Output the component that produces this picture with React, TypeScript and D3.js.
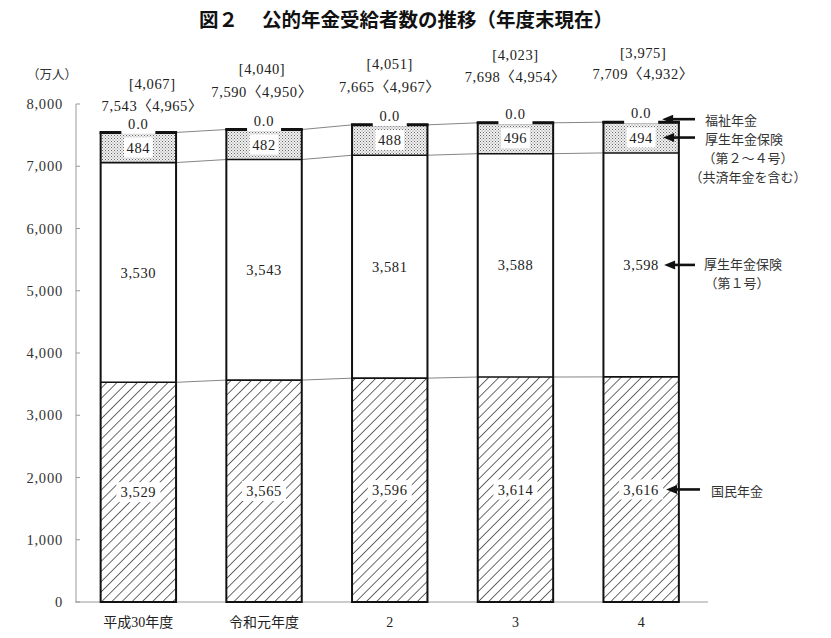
import React from 'react';
import * as d3 from 'd3';

// ---- data (万人) ----
const categories = ['平成30年度', '令和元年度', '2', '3', '4'];
const kokumin = [3529, 3565, 3596, 3614, 3616];
const kosei1 = [3530, 3543, 3581, 3588, 3598];
const kosei24 = [484, 482, 488, 496, 494];
const fukushi = [0.0, 0.0, 0.0, 0.0, 0.0];
const totals = [7543, 7590, 7665, 7698, 7709];
const bracketVals = [4067, 4040, 4051, 4023, 3975];
const angleVals = [4965, 4950, 4967, 4954, 4932];
const yTicks = [0, 1000, 2000, 3000, 4000, 5000, 6000, 7000, 8000];

// ---- layout constants ----
const W = 831;
const H = 638;
const annotationLift = [
  [49, 27],
  [61, 38],
  [61, 38],
  [68, 46],
  [69, 48],
];
const annotationShift = [14, -2, 0, 0, 2];

const NUM_FONT = '"Liberation Serif", "DejaVu Serif", serif';
const JP_FONT = '"Noto Sans CJK JP", "Noto Sans", sans-serif';
const MIX_FONT = '"Liberation Serif", "Noto Sans CJK JP", serif';

export default function App() {
  const x = d3.scaleBand<string>().domain(categories).range([75.5, 704]).paddingInner(0.4).paddingOuter(0.2);
  const y = d3.scaleLinear().domain([0, 8000]).range([602, 104]);
  const fmt = d3.format(',');
  const fmt1 = d3.format('.1f');
  const bw = x.bandwidth();

  const rows = categories.map((c, i) => {
    const c1 = kokumin[i];
    const c2 = c1 + kosei1[i];
    const c3 = c2 + kosei24[i];
    const c4 = c3 + fukushi[i];
    return { c, i, x0: x(c) as number, c1, c2, c3, c4 };
  });

  const levels = (r: typeof rows[number]) => [r.c1, r.c2, r.c4];

  const valueLabel = (cx: number, cy: number, text: string, key: string) => {
    const w = text.length * 7.6 + 6;
    return (
      <g key={key}>
        <rect x={cx - w / 2} y={cy - 10} width={w} height={20} fill="#fff" />
        <text x={cx} y={cy} dy="0.35em" textAnchor="middle" fontFamily={NUM_FONT} fontSize={14.5} letterSpacing={0.6} fill="#222">
          {text}
        </text>
      </g>
    );
  };

  const arrow = (tipX: number, tailX: number, yy: number, key: string) => (
    <g key={key}>
      <line x1={tailX} x2={tipX + 8} y1={yy} y2={yy} stroke="#111" strokeWidth={2.6} />
      <path d={`M${tipX},${yy} L${tipX + 11},${yy - 4.5} L${tipX + 11},${yy + 4.5} Z`} fill="#111" />
    </g>
  );

  const last = rows[rows.length - 1];
  const lastCx = last.x0 + bw / 2;
  const yK2 = (y(last.c2) + y(last.c3)) / 2;
  const yK1 = (y(last.c1) + y(last.c2)) / 2;
  const yKm = (y(0) + y(last.c1)) / 2;

  return (
    <svg width={W} height={H} viewBox={`0 0 ${W} ${H}`} style={{ position: 'absolute', left: 0, top: 0, background: '#fff' }}>
      <defs>
        <pattern id="hatch" width={7.2} height={7.2} patternUnits="userSpaceOnUse" patternTransform="rotate(45)">
          <rect width={7.2} height={7.2} fill="#fff" />
          <line x1={0} y1={0} x2={0} y2={7.2} stroke="#3a3a3a" strokeWidth={1.5} />
        </pattern>
        <pattern id="dots" width={3} height={3} patternUnits="userSpaceOnUse">
          <rect width={3} height={3} fill="#f0f0f0" />
          <rect x={0} y={0} width={1} height={1} fill="#6a6a6a" />
          <rect x={1.5} y={1.5} width={1} height={1} fill="#8a8a8a" />
        </pattern>
      </defs>
      <rect width={W} height={H} fill="#fff" />

      {/* title */}
      <text x={406} y={20} dy="0.35em" textAnchor="middle" fontFamily={JP_FONT} fontWeight={700} fontSize={19.5} fill="#111">
        図２　 公的年金受給者数の推移（年度末現在）
      </text>

      {/* unit */}
      <text x={52} y={75} dy="0.35em" textAnchor="middle" fontFamily={JP_FONT} fontSize={12.5} fill="#333">
        （万人）
      </text>

      {/* y axis */}
      <line x1={76} x2={76} y1={y(8000)} y2={y(0)} stroke="#999" strokeWidth={1} />
      <line x1={75} x2={708} y1={y(0)} y2={y(0)} stroke="#999" strokeWidth={1} />
      {yTicks.map((t) => (
        <g key={t}>
          <line x1={76} x2={80} y1={y(t)} y2={y(t)} stroke="#999" strokeWidth={1} />
          <text x={63} y={y(t)} dy="0.35em" textAnchor="end" fontFamily={NUM_FONT} fontSize={14.5} letterSpacing={0.8} fill="#333">
            {fmt(t)}
          </text>
        </g>
      ))}

      {/* connector lines */}
      {rows.slice(0, -1).map((r, i) => {
        const n = rows[i + 1];
        const a = levels(r);
        const b = levels(n);
        return a.map((v, k) => (
          <line key={`con-${i}-${k}`} x1={r.x0 + bw} x2={n.x0} y1={y(v)} y2={y(b[k])} stroke="#666" strokeWidth={0.8} />
        ));
      })}

      {/* bars */}
      {rows.map((r) => (
        <g key={`bar-${r.i}`}>
          <rect x={r.x0} y={y(r.c1)} width={bw} height={y(0) - y(r.c1)} fill="url(#hatch)" />
          <rect x={r.x0} y={y(r.c2)} width={bw} height={y(r.c1) - y(r.c2)} fill="#fff" />
          <rect x={r.x0} y={y(r.c3)} width={bw} height={y(r.c2) - y(r.c3)} fill="url(#dots)" />
          <line x1={r.x0} x2={r.x0 + bw} y1={y(r.c1)} y2={y(r.c1)} stroke="#111" strokeWidth={1.6} />
          <line x1={r.x0} x2={r.x0 + bw} y1={y(r.c2)} y2={y(r.c2)} stroke="#111" strokeWidth={1.6} />
          <rect x={r.x0} y={y(r.c4)} width={bw} height={y(0) - y(r.c4)} fill="none" stroke="#111" strokeWidth={2} />
          <line x1={r.x0 - 1} x2={r.x0 + bw + 1} y1={y(r.c4)} y2={y(r.c4)} stroke="#111" strokeWidth={3} />
        </g>
      ))}

      {/* value labels */}
      {rows.map((r) => {
        const cx = r.x0 + bw / 2;
        return (
          <g key={`lab-${r.i}`}>
            {valueLabel(cx, (y(0) + y(r.c1)) / 2, fmt(kokumin[r.i]), 'k')}
            {valueLabel(cx, (y(r.c1) + y(r.c2)) / 2, fmt(kosei1[r.i]), 'k1')}
            {valueLabel(cx, (y(r.c2) + y(r.c3)) / 2, fmt(kosei24[r.i]), 'k2')}
            <rect x={cx - 17} y={y(r.c4) - 18} width={34} height={19.5} fill="#fff" />
            <text x={cx} y={y(r.c4) - 9} dy="0.35em" textAnchor="middle" fontFamily={NUM_FONT} fontSize={14.5} letterSpacing={0.8} fill="#222">
              {fmt1(fukushi[r.i])}
            </text>
            <text x={cx + annotationShift[r.i]} y={y(r.c4) - annotationLift[r.i][0]} dy="0.35em" textAnchor="middle" fontFamily={NUM_FONT} fontSize={14.5} letterSpacing={0.6} fill="#222">
              {`[${fmt(bracketVals[r.i])}]`}
            </text>
            <text x={cx + annotationShift[r.i]} y={y(r.c4) - annotationLift[r.i][1]} dy="0.35em" textAnchor="middle" fontFamily={MIX_FONT} fontSize={14.5} letterSpacing={0.6} fill="#222">
              {`${fmt(totals[r.i])}〈${fmt(angleVals[r.i])}〉`}
            </text>
          </g>
        );
      })}

      {/* x labels */}
      {rows.map((r) => (
        <text key={`xl-${r.i}`} x={r.x0 + bw / 2} y={622} dy="0.35em" textAnchor="middle" fontFamily={MIX_FONT} fontSize={14} fill="#222">
          {r.c}
        </text>
      ))}

      {/* legend arrows */}
      {arrow(lastCx + 21, 695, y(last.c4) - 3, 'a1')}
      {arrow(lastCx + 22, 695, yK2, 'a2')}
      {arrow(lastCx + 23, 695, yK1, 'a3')}
      {arrow(lastCx + 25, 700, yKm, 'a4')}

      <g fontFamily={JP_FONT} fontSize={13} fill="#333">
        <text x={705} y={y(last.c4) - 2} dy="0.35em">福祉年金</text>
        <text x={705} y={yK2 + 2} dy="0.35em">厚生年金保険</text>
        <text x={748} y={yK2 + 21} dy="0.35em" textAnchor="middle">（第２～４号）</text>
        <text x={748} y={yK2 + 40} dy="0.35em" textAnchor="middle">（共済年金を含む）</text>
        <text x={704} y={yK1} dy="0.35em">厚生年金保険</text>
        <text x={737} y={yK1 + 19} dy="0.35em" textAnchor="middle">（第１号）</text>
        <text x={711} y={yKm + 2} dy="0.35em">国民年金</text>
      </g>
    </svg>
  );
}
